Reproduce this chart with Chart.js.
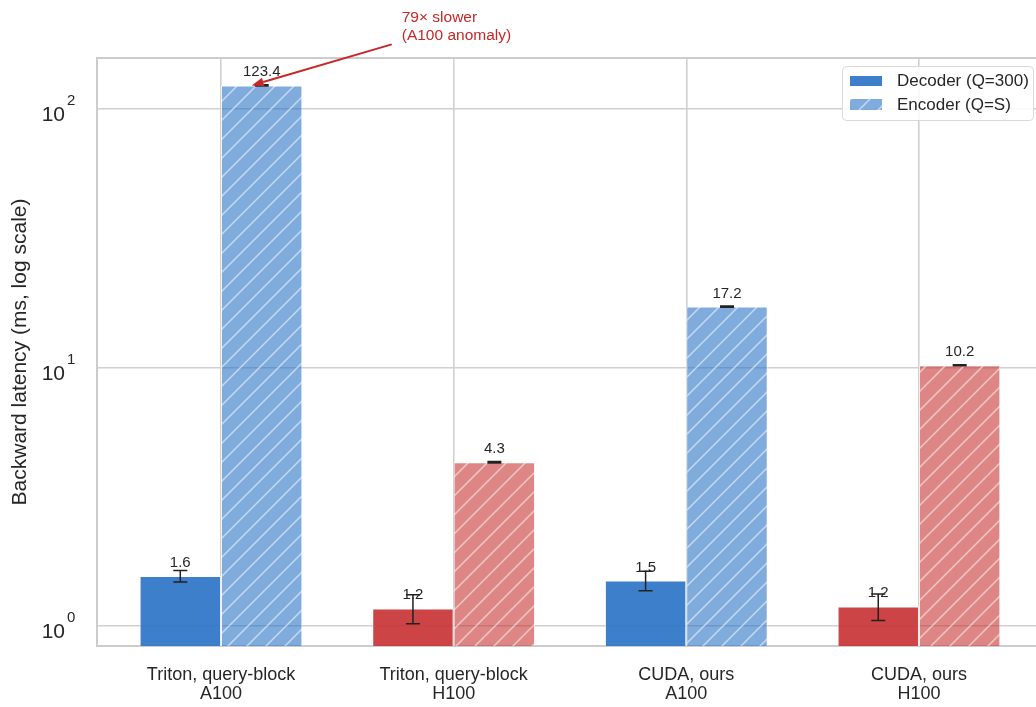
<!DOCTYPE html>
<html>
<head>
<meta charset="utf-8">
<script src="https://cdn.jsdelivr.net/npm/chart.js@4.4.1/dist/chart.umd.min.js"></script>
<style>
  html, body { margin: 0; padding: 0; background: #fff; }
</style>
</head>
<body>
<canvas id="myChart" width="1036" height="707"></canvas>
<script>
const categories = [
  ['Triton, query-block', 'A100'],
  ['Triton, query-block', 'H100'],
  ['CUDA, ours', 'A100'],
  ['CUDA, ours', 'H100']
];
const gpus = ['A100', 'H100', 'A100', 'H100'];
const decoder = [1.56, 1.17, 1.5, 1.19];
const decoderErr = [0.08, 0.15, 0.13, 0.14];
const encoder = [123.4, 4.3, 17.2, 10.2];
const encoderErr = [0.6, 0.03, 0.08, 0.05];
const yTicks = [1, 10, 100];
const seriesNames = ['Decoder (Q=300)', 'Encoder (Q=S)'];

const FONT = '"Liberation Sans", Arial, sans-serif';
const TEXT = '#262626';
const GRID = '#d0d0d0';

const solid = { A100: 'rgba(44,116,198,0.92)', H100: 'rgba(200,52,53,0.92)' };
const light = { A100: 'rgba(44,116,198,0.6)', H100: 'rgba(200,52,53,0.6)' };

const ctx = document.getElementById('myChart').getContext('2d');

function hatch(color) {
  const s = 19;
  const c = document.createElement('canvas');
  c.width = s;
  c.height = s;
  const g = c.getContext('2d');
  g.fillStyle = color;
  g.fillRect(0, 0, s, s);
  g.strokeStyle = 'rgba(255,255,255,0.55)';
  g.lineWidth = 1.5;
  g.beginPath();
  g.moveTo(0, s); g.lineTo(s, 0);
  g.moveTo(-s / 2, s / 2); g.lineTo(s / 2, -s / 2);
  g.moveTo(s / 2, s * 1.5); g.lineTo(s * 1.5, s / 2);
  g.stroke();
  return ctx.createPattern(c, 'repeat');
}

const hatchFill = { A100: hatch(light.A100), H100: hatch(light.H100) };

const extras = {
  id: 'extras',
  afterDatasetsDraw(chart) {
    const c = chart.ctx;
    const y = chart.scales.y;
    const sets = [[decoder, decoderErr], [encoder, encoderErr]];
    sets.forEach(([vals, errs], di) => {
      const meta = chart.getDatasetMeta(di);
      meta.data.forEach((bar, i) => {
        const top = y.getPixelForValue(vals[i] + errs[i]);
        const bot = y.getPixelForValue(vals[i] - errs[i]);
        c.save();
        c.strokeStyle = '#222';
        c.lineWidth = 1.5;
        c.beginPath();
        c.moveTo(bar.x, top); c.lineTo(bar.x, bot);
        c.moveTo(bar.x - 7, top); c.lineTo(bar.x + 7, top);
        c.moveTo(bar.x - 7, bot); c.lineTo(bar.x + 7, bot);
        c.stroke();
        c.fillStyle = TEXT;
        c.font = '15px ' + FONT;
        c.textAlign = 'center';
        c.textBaseline = 'alphabetic';
        c.fillText(vals[i].toFixed(1), bar.x, bar.y - 9);
        c.restore();
      });
    });
  },
  afterDraw(chart) {
    const c = chart.ctx;
    const area = chart.chartArea;
    const y = chart.scales.y;
    c.save();

    // top spine
    c.strokeStyle = '#cccccc';
    c.lineWidth = 2;
    c.beginPath();
    c.moveTo(area.left, area.top);
    c.lineTo(area.right, area.top);
    c.stroke();

    // y tick labels as 10^n
    c.fillStyle = TEXT;
    yTicks.forEach(v => {
      const py = y.getPixelForValue(v);
      c.font = '21px ' + FONT;
      c.textAlign = 'right';
      c.textBaseline = 'alphabetic';
      c.fillText('10', 65, py + 12);
      c.font = '15px ' + FONT;
      c.textAlign = 'left';
      c.fillText(String(Math.round(Math.log10(v))), 67, py - 4);
    });

    // legend
    c.fillStyle = 'rgba(255,255,255,0.85)';
    c.strokeStyle = '#d9d9d9';
    c.lineWidth = 1;
    c.beginPath();
    c.roundRect(842.5, 66.5, 191, 54, 4);
    c.fill();
    c.stroke();
    c.fillStyle = solid.A100;
    c.fillRect(850, 76, 32, 10);
    c.fillStyle = hatchFill.A100;
    c.fillRect(850, 99, 32, 11);
    c.fillStyle = TEXT;
    c.font = '17px ' + FONT;
    c.textAlign = 'left';
    c.textBaseline = 'middle';
    c.fillText(seriesNames[0], 897, 81);
    c.fillText(seriesNames[1], 897, 105);

    // annotation arrow
    const bar = chart.getDatasetMeta(1).data[0];
    const tip = { x: bar.x - 10, y: y.getPixelForValue(encoder[0]) };
    const tail = { x: tip.x + 140, y: tip.y - 41 };
    const red = '#c62828';
    c.strokeStyle = red;
    c.fillStyle = red;
    c.lineWidth = 2;
    const ang = Math.atan2(tip.y - tail.y, tip.x - tail.x);
    const hl = 12;
    const hw = 4.5;
    const bx = tip.x - hl * Math.cos(ang);
    const by = tip.y - hl * Math.sin(ang);
    c.beginPath();
    c.moveTo(tail.x, tail.y);
    c.lineTo(bx, by);
    c.stroke();
    c.beginPath();
    c.moveTo(tip.x, tip.y);
    c.lineTo(bx + hw * Math.sin(ang), by - hw * Math.cos(ang));
    c.lineTo(bx - hw * Math.sin(ang), by + hw * Math.cos(ang));
    c.closePath();
    c.fill();
    c.font = '15.5px ' + FONT;
    c.textAlign = 'left';
    c.textBaseline = 'middle';
    c.fillText('79× slower', tip.x + 150, tip.y - 68);
    c.fillText('(A100 anomaly)', tip.x + 150, tip.y - 50);
    c.restore();
  }
};

const chart = new Chart(ctx, {
  type: 'bar',
  data: {
    datasets: [
      {
        label: seriesNames[0],
        data: decoder.map((v, i) => ({ x: i, y: v })),
        backgroundColor: gpus.map(g => solid[g]),
        borderColor: 'rgba(255,255,255,0.6)',
        borderWidth: 1,
        categoryPercentage: 0.7,
        barPercentage: 1
      },
      {
        label: seriesNames[1],
        data: encoder.map((v, i) => ({ x: i, y: v })),
        backgroundColor: gpus.map(g => hatchFill[g]),
        borderColor: 'rgba(255,255,255,0.6)',
        borderWidth: 1,
        categoryPercentage: 0.7,
        barPercentage: 1
      }
    ]
  },
  options: {
    responsive: false,
    animation: false,
    devicePixelRatio: 1,
    layout: { padding: { top: 58, right: 0, bottom: 0, left: 0 } },
    plugins: {
      legend: { display: false },
      tooltip: { enabled: false }
    },
    scales: {
      x: {
        type: 'linear',
        min: -0.533,
        max: 3.503,
        offset: false,
        afterBuildTicks: axis => {
          axis.ticks = categories.map((c, i) => ({ value: i }));
        },
        afterFit: axis => { axis.height = 61; },
        ticks: {
          callback: (v, i) => categories[i],
          font: { family: FONT, size: 18, lineHeight: 1.02 },
          color: TEXT,
          padding: 20,
          maxRotation: 0
        },
        grid: { color: GRID, lineWidth: 1.6, drawTicks: false, offset: false },
        border: { color: '#cccccc', width: 2 }
      },
      y: {
        type: 'logarithmic',
        min: 0.837,
        max: 157.5,
        afterBuildTicks: axis => {
          axis.ticks = yTicks.map(v => ({ value: v }));
        },
        afterFit: axis => { axis.width = 97; },
        ticks: { display: false },
        grid: { color: GRID, lineWidth: 1.6, drawTicks: false },
        border: { color: '#cccccc', width: 2 },
        title: {
          display: true,
          text: 'Backward latency (ms, log scale)',
          font: { family: FONT, size: 21 },
          color: TEXT,
          padding: { top: 8, bottom: 0 }
        }
      }
    }
  },
  plugins: [extras]
});
</script>
</body>
</html>
